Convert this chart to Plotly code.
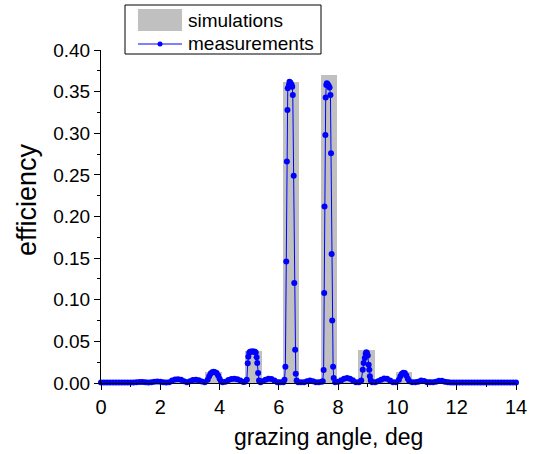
import plotly.graph_objects as go

# Simulations (grey bars): centre angle, height
sim_angle = [1.32, 1.95, 2.59, 3.22, 3.80, 4.50, 5.14, 5.77, 6.40, 7.04, 7.68,
             8.30, 8.96, 9.59, 10.23, 10.87, 11.50]
sim_eff = [0.001, 0.0015, 0.004, 0.004, 0.0135, 0.005, 0.038, 0.005, 0.362, 0.003, 0.370,
           0.0076, 0.0396, 0.0064, 0.0128, 0.0048, 0.0048]

# Measurements (blue line with markers)
meas_angle = [
    0.0, 0.1, 0.2, 0.3, 0.4, 0.5, 0.6, 0.7, 0.8, 0.9, 1.0, 1.1,
    1.2, 1.3, 1.4, 1.5, 1.6,
    1.7, 1.8, 1.9, 2.0, 2.1, 2.2,
    2.3, 2.4, 2.5, 2.6, 2.7, 2.8, 2.9,
    3.0, 3.1, 3.2, 3.3, 3.4, 3.5,
    3.6, 3.65, 3.7, 3.75, 3.8, 3.85, 3.9, 3.95, 4.0, 4.05, 4.1,
    4.2, 4.3, 4.4, 4.5, 4.6, 4.7, 4.8, 4.85,
    4.92, 4.95, 4.97, 5.0, 5.03, 5.07, 5.11, 5.15, 5.19, 5.22, 5.25, 5.27, 5.3, 5.33, 5.38,
    5.45, 5.55, 5.65, 5.75, 5.85, 5.95, 6.05, 6.15,
    6.19, 6.22, 6.25, 6.27, 6.29, 6.30, 6.34, 6.36, 6.38, 6.40, 6.43, 6.45,
    6.47, 6.50, 6.52, 6.55, 6.57, 6.60,
    6.65, 6.75, 6.85, 6.95, 7.05, 7.15, 7.25, 7.35, 7.45,
    7.48, 7.51, 7.53, 7.54, 7.57, 7.58, 7.60, 7.62, 7.65, 7.68, 7.71,
    7.74, 7.76, 7.78, 7.80, 7.83, 7.85,
    7.9, 8.0, 8.1, 8.2, 8.3, 8.4, 8.5, 8.6, 8.7, 8.78,
    8.83, 8.86, 8.9, 8.93, 8.95, 8.97, 9.0, 9.03, 9.05, 9.07, 9.1, 9.15,
    9.25, 9.35, 9.45, 9.55, 9.65, 9.75, 9.85, 9.95,
    10.05, 10.1, 10.15, 10.2, 10.25, 10.3, 10.35, 10.4, 10.5,
    10.6, 10.7, 10.8, 10.9, 11.0, 11.1, 11.2, 11.3, 11.4, 11.5, 11.6, 11.7,
    11.8, 11.9, 12.0, 12.1, 12.2, 12.3, 12.4, 12.5, 12.6, 12.7, 12.8, 12.9,
    13.0, 13.1, 13.2, 13.3, 13.4, 13.5, 13.6, 13.7, 13.8, 13.9, 14.0,
]
meas_eff = [
    0.0005, 0.0005, 0.0005, 0.0005, 0.0005, 0.0005, 0.0005, 0.0005, 0.0005, 0.0005, 0.0005, 0.0005,
    0.0008, 0.0012, 0.0012, 0.0008, 0.0005,
    0.0008, 0.0015, 0.0018, 0.0015, 0.0008, 0.0006,
    0.001, 0.003, 0.0043, 0.0046, 0.004, 0.0022, 0.001,
    0.002, 0.0035, 0.0038, 0.0033, 0.0018, 0.0008,
    0.004, 0.008, 0.0115, 0.013, 0.0135, 0.013, 0.012, 0.009, 0.005, 0.002, 0.001,
    0.0015, 0.0035, 0.0048, 0.005, 0.0045, 0.003, 0.0012, 0.0015,
    0.004, 0.0236, 0.0316, 0.0364, 0.0376, 0.0378, 0.0378, 0.0377, 0.0375, 0.0365, 0.031, 0.024, 0.012, 0.003, 0.001,
    0.002, 0.004, 0.005, 0.0048, 0.003, 0.001, 0.0008, 0.001,
    0.004, 0.0196, 0.146, 0.266, 0.328, 0.354, 0.358, 0.362, 0.361, 0.360, 0.358, 0.356,
    0.346, 0.249, 0.120, 0.040, 0.011, 0.003,
    0.001, 0.0008, 0.001, 0.002, 0.003, 0.002, 0.001, 0.0008, 0.0015,
    0.002, 0.0156, 0.108, 0.212, 0.298, 0.343, 0.358, 0.360, 0.359, 0.357, 0.355,
    0.346, 0.276, 0.155, 0.075, 0.0196, 0.006,
    0.001, 0.0015, 0.003, 0.005, 0.006, 0.005, 0.003, 0.001, 0.001, 0.003,
    0.016, 0.024, 0.030, 0.035, 0.037, 0.036, 0.033, 0.022, 0.016, 0.008, 0.003, 0.001,
    0.001, 0.002, 0.004, 0.0055, 0.005, 0.003, 0.001, 0.001,
    0.004, 0.008, 0.011, 0.0124, 0.012, 0.009, 0.005, 0.002, 0.0008,
    0.0008, 0.0015, 0.003, 0.0025, 0.001, 0.0008, 0.0008, 0.0015, 0.0028, 0.0028, 0.0015, 0.0008,
    0.0005, 0.0005, 0.0005, 0.0005, 0.0005, 0.0005, 0.0005, 0.0005, 0.0005, 0.0005, 0.0005, 0.0005,
    0.0005, 0.0005, 0.0005, 0.0005, 0.0005, 0.0005, 0.0005, 0.0005, 0.0005, 0.0005, 0.0005,
]

x_ticks = [0, 2, 4, 6, 8, 10, 12, 14]
y_ticks = [0.00, 0.05, 0.10, 0.15, 0.20, 0.25, 0.30, 0.35, 0.40]

FONT = "Liberation Sans, Arial, Helvetica, sans-serif"
GREY = "#c0c0c0"
BLUE = "#0000ff"

fig = go.Figure()
fig.add_trace(go.Bar(x=sim_angle, y=sim_eff, width=0.55, marker=dict(color=GREY, line=dict(width=0)),
                     name="simulations", showlegend=False))
fig.add_trace(go.Scatter(x=meas_angle, y=meas_eff, mode="lines+markers",
                         line=dict(color=BLUE, width=1), marker=dict(color=BLUE, size=6),
                         cliponaxis=False, name="measurements", showlegend=False))

W, H = 536, 454
L, T = 101, 50
R = W - 516
B = H - 383
pw, ph = W - L - R, H - T - B

def px(x):  # page pixel x -> paper
    return (x - L) / pw

def py(y):  # page pixel y -> paper
    return (H - B - y) / ph

shapes = [
    dict(type="rect", xref="paper", yref="paper", x0=px(125), x1=px(321), y0=py(54), y1=py(5),
         line=dict(color="black", width=1), fillcolor="white", layer="above"),
    dict(type="rect", xref="paper", yref="paper", x0=px(138), x1=px(182), y0=py(31), y1=py(9),
         line=dict(width=0), fillcolor=GREY, layer="above"),
    dict(type="line", xref="paper", yref="paper", x0=px(138), x1=px(182), y0=py(44), y1=py(44),
         line=dict(color=BLUE, width=1), layer="above"),
    dict(type="circle", xref="paper", yref="paper", x0=px(157.5), x1=px(162.5), y0=py(46.5), y1=py(41.5),
         line=dict(color=BLUE, width=0), fillcolor=BLUE, layer="above"),
]
annotations = [
    dict(text="simulations", xref="paper", yref="paper", x=px(186), y=py(20), xanchor="left",
         yanchor="middle", showarrow=False, font=dict(family=FONT, size=19, color="black")),
    dict(text="measurements", xref="paper", yref="paper", x=px(186), y=py(44), xanchor="left",
         yanchor="middle", showarrow=False, font=dict(family=FONT, size=19, color="black")),
    dict(text="efficiency", xref="paper", yref="paper", x=px(27), y=py(200), xanchor="center",
         yanchor="middle", textangle=-90, showarrow=False, font=dict(family=FONT, size=27, color="black")),
    dict(text="grazing angle, deg", xref="paper", yref="paper", x=px(328), y=py(437), xanchor="center",
         yanchor="middle", showarrow=False, font=dict(family=FONT, size=23, color="black")),
]

fig.update_layout(
    width=W, height=H,
    margin=dict(l=L, r=R, t=T, b=B, pad=0, autoexpand=False),
    paper_bgcolor="white", plot_bgcolor="white",
    font=dict(family=FONT, color="black"),
    bargap=0,
    shapes=shapes, annotations=annotations,
    xaxis=dict(range=[0, 14], tickvals=x_ticks, ticktext=[str(v) for v in x_ticks],
               showline=True, linecolor="black", linewidth=1, mirror=False,
               ticks="outside", ticklen=6, tickcolor="black", tickwidth=1,
               minor=dict(dtick=1, ticks="outside", ticklen=3, tickcolor="black"),
               showgrid=False, zeroline=False, automargin=False,
               tickfont=dict(family=FONT, size=20, color="black")),
    yaxis=dict(range=[0, 0.4], tickvals=y_ticks, ticktext=[f"{v:.2f}" for v in y_ticks],
               showline=True, linecolor="black", linewidth=1, mirror=False,
               ticks="outside", ticklen=6, tickcolor="black", tickwidth=1,
               minor=dict(dtick=0.025, ticks="outside", ticklen=3, tickcolor="black"),
               showgrid=False, zeroline=False, automargin=False,
               tickfont=dict(family=FONT, size=19, color="black")),
)

fig.write_html("out.html", config={"displayModeBar": False},
               post_script="document.body.style.margin='0px';")
